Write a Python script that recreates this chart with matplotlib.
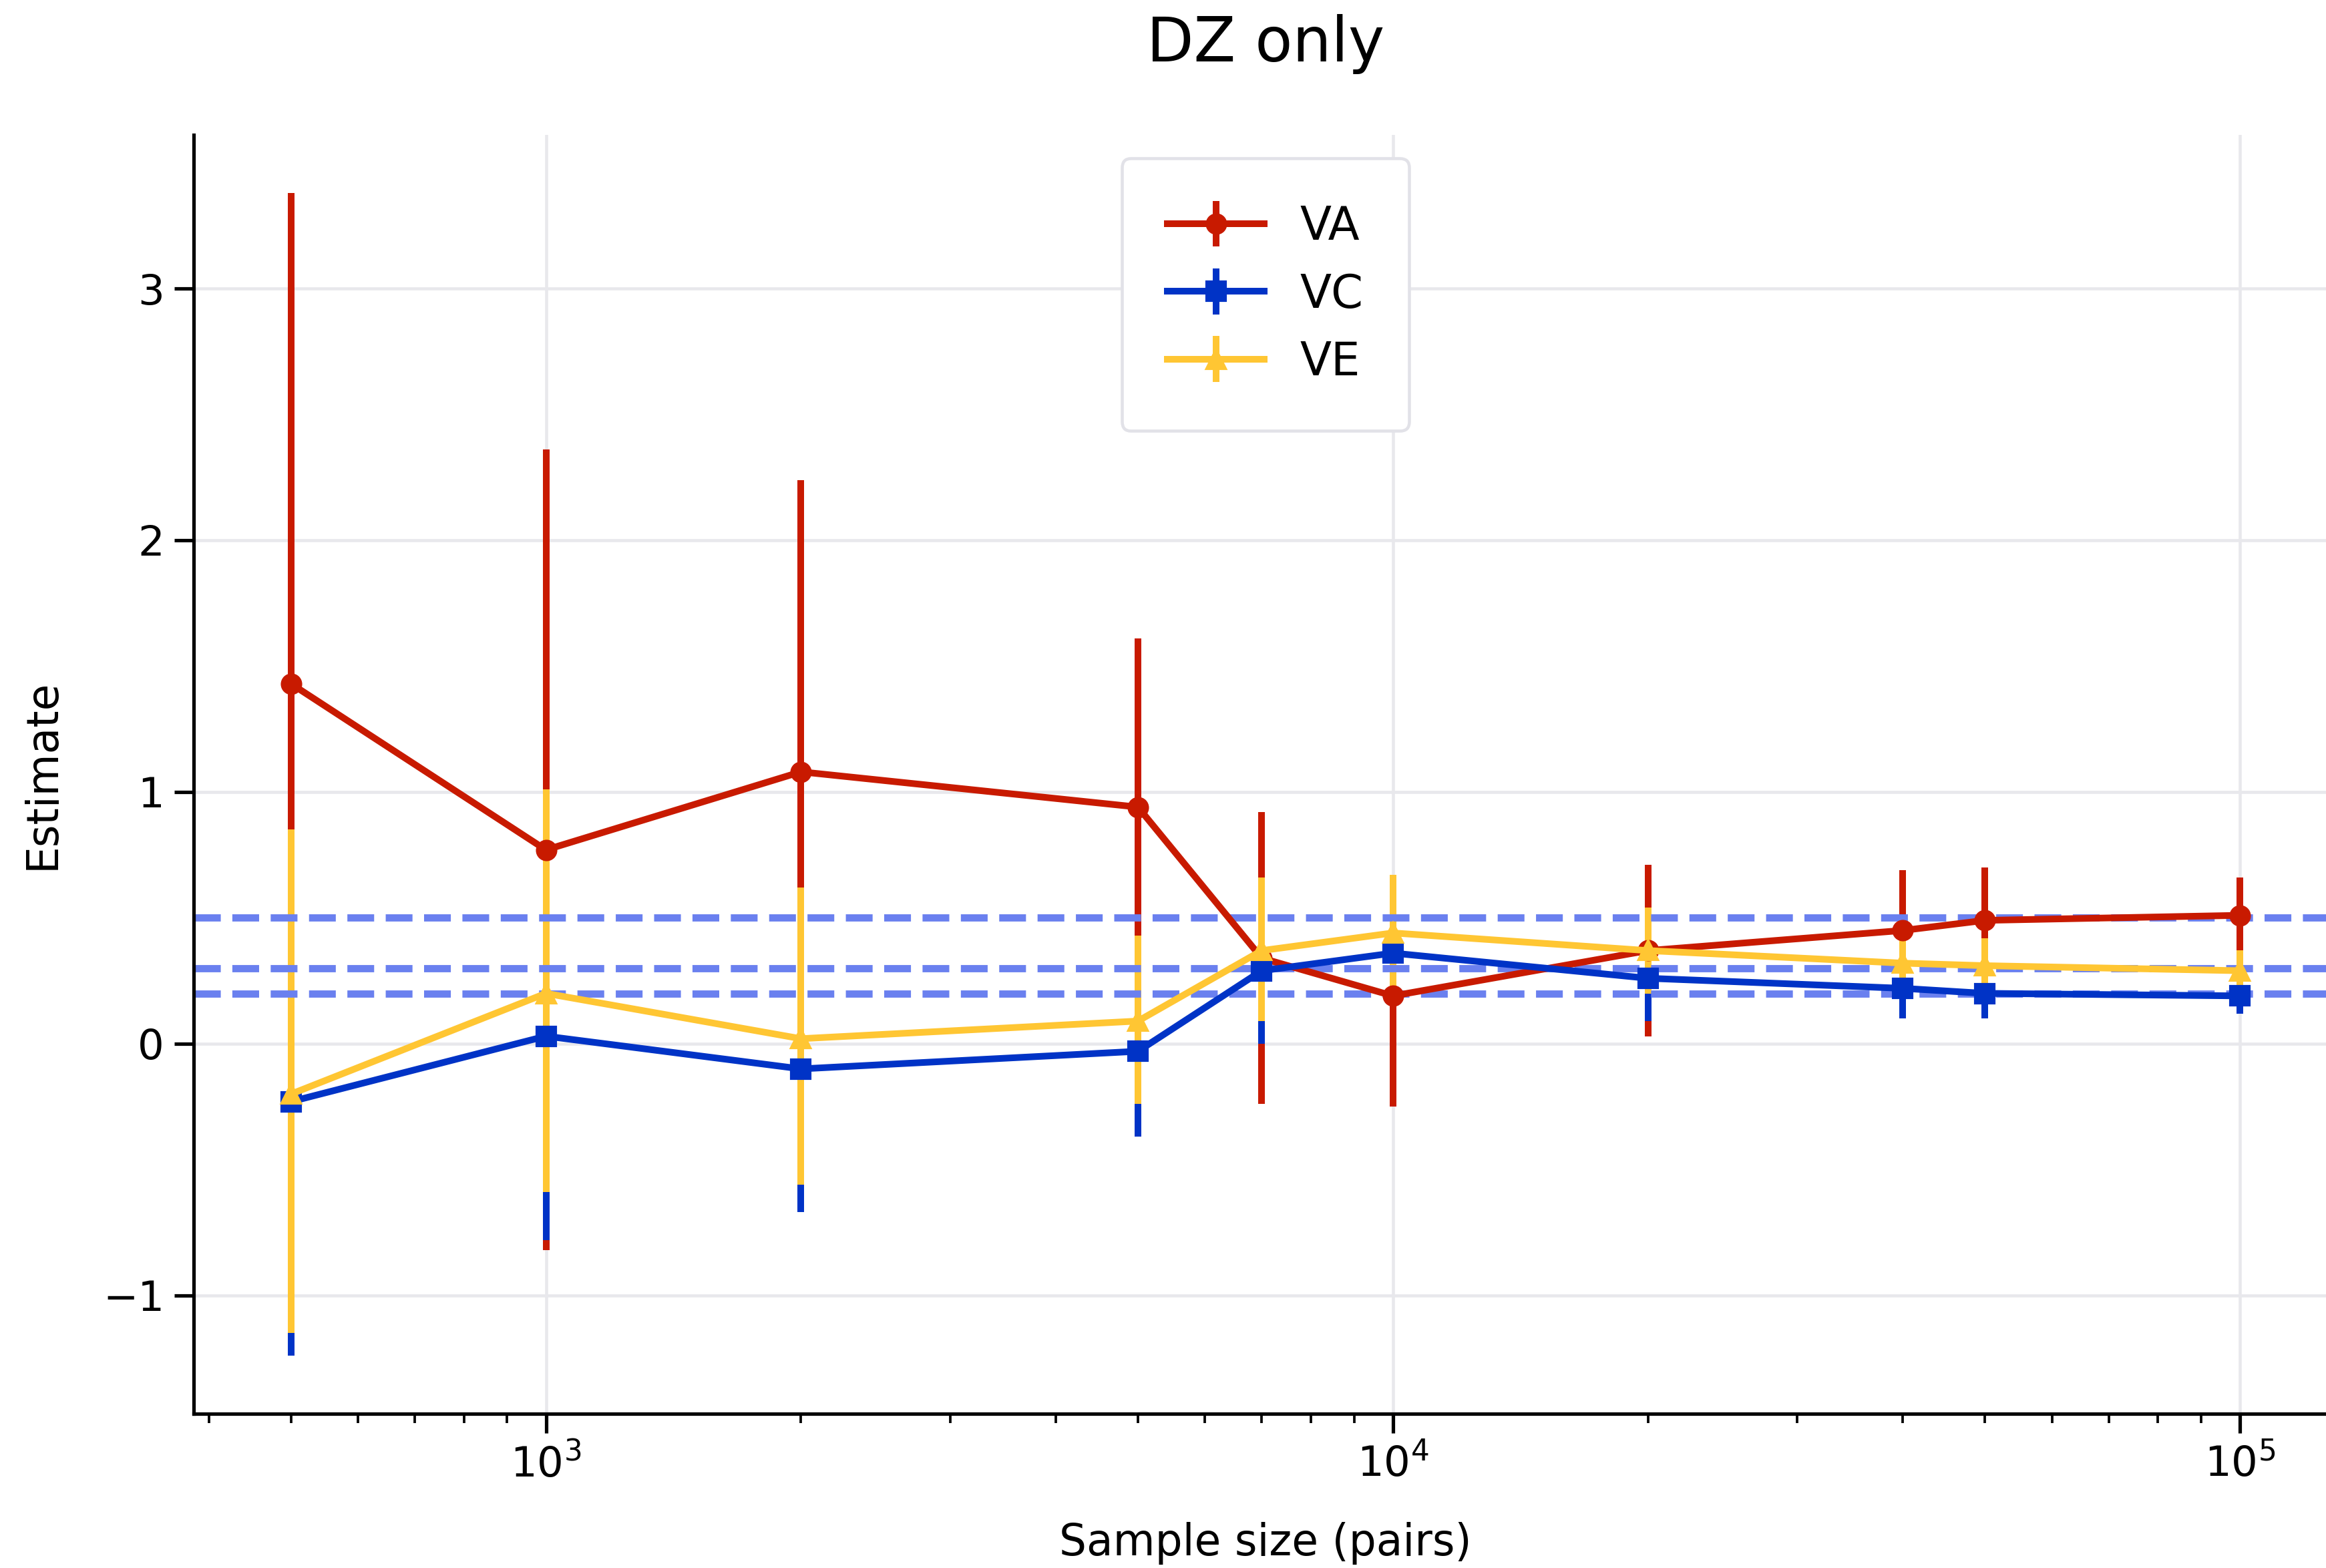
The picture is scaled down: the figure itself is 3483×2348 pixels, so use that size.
import matplotlib
matplotlib.use("Agg")
import matplotlib.pyplot as plt
import numpy as np

# Sample sizes (pairs)
sample_sizes = [500, 1000, 2000, 5000, 7000, 10000, 20000, 40000, 50000, 100000]

# Variance-component estimates with lower / upper interval bounds
va_est = [1.43, 0.77, 1.08, 0.94, 0.34, 0.19, 0.37, 0.45, 0.49, 0.51]
va_lo = [-0.52, -0.82, -0.08, 0.27, -0.24, -0.25, 0.03, 0.21, 0.28, 0.36]
va_hi = [3.38, 2.36, 2.24, 1.61, 0.92, 0.63, 0.71, 0.69, 0.70, 0.66]

vc_est = [-0.23, 0.03, -0.10, -0.03, 0.29, 0.36, 0.26, 0.22, 0.20, 0.19]
vc_lo = [-1.24, -0.78, -0.67, -0.37, 0.00, 0.15, 0.09, 0.10, 0.10, 0.12]
vc_hi = [0.78, 0.84, 0.47, 0.31, 0.58, 0.57, 0.43, 0.34, 0.30, 0.26]

ve_est = [-0.20, 0.20, 0.02, 0.09, 0.37, 0.44, 0.37, 0.32, 0.31, 0.29]
ve_lo = [-1.15, -0.59, -0.56, -0.24, 0.09, 0.21, 0.20, 0.22, 0.20, 0.21]
ve_hi = [0.85, 1.01, 0.62, 0.43, 0.66, 0.67, 0.54, 0.41, 0.42, 0.37]

# True simulation values
true_values = [0.5, 0.3, 0.2]

series = [
    ("VA", va_est, va_lo, va_hi, "#C81A00", "o"),
    ("VC", vc_est, vc_lo, vc_hi, "#0033C6", "s"),
    ("VE", ve_est, ve_lo, ve_hi, "#FFC633", "^"),
]

plt.rcParams["font.family"] = ["DejaVu Sans"]

fig = plt.figure(figsize=(11.61, 7.8267), dpi=300)
ax = fig.add_axes([0.0832, 0.0982, 0.9217, 0.8159])

for label, est, lo, hi, color, marker in series:
    est = np.asarray(est)
    yerr = np.vstack([est - np.asarray(lo), np.asarray(hi) - est])
    ax.errorbar(sample_sizes, est, yerr=yerr, label=label, color=color,
                marker=marker, markersize=6.7, linewidth=2.4,
                elinewidth=2.4, capsize=0)

for tv in true_values:
    ax.axhline(tv, color="#6A80EF", linestyle="--", linewidth=2.6)

ax.set_xscale("log")
ax.set_yticks([-1, 0, 1, 2, 3])

ax.grid(True, which="major", color="#E8E8EC", linewidth=1.1)
ax.set_axisbelow(True)

for side in ("top", "right"):
    ax.spines[side].set_visible(False)
for side in ("left", "bottom"):
    ax.spines[side].set_linewidth(1.25)
    ax.spines[side].set_color("black")

ax.tick_params(axis="both", which="major", labelsize=15, length=7,
               width=1.25, color="black")
ax.tick_params(axis="x", which="minor", length=3.3, width=0.9)

ax.set_xlabel("Sample size (pairs)", fontsize=15.5, labelpad=13)
ax.set_ylabel("Estimate", fontsize=15.5, labelpad=14)
ax.set_title("DZ only", fontsize=22, y=1.057, pad=0)

leg = ax.legend(loc="upper center", fontsize=16.5, borderpad=1.0,
                handlelength=2.1, handletextpad=0.78, labelspacing=0.5,
                borderaxespad=0.52, frameon=True, fancybox=True,
                framealpha=1.0)
leg.get_frame().set_edgecolor("#E2E2E8")
leg.get_frame().set_linewidth(1.1)

fig.savefig("out.png", dpi=300)
